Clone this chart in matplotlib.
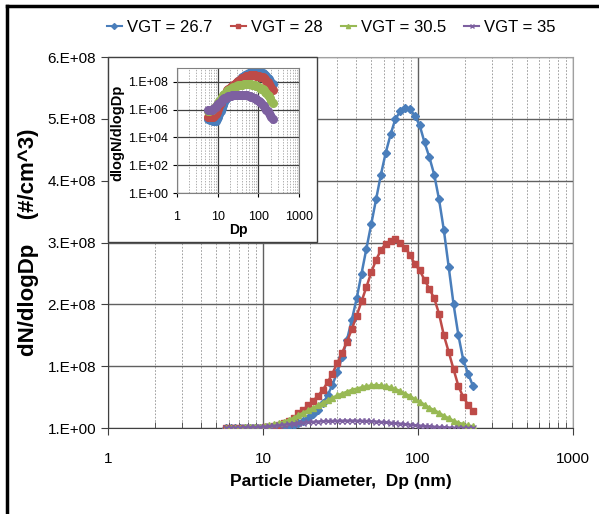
import numpy as np
import matplotlib
matplotlib.use('Agg')
import matplotlib.pyplot as plt
import matplotlib.ticker as ticker
from matplotlib import font_manager
from matplotlib.patches import Rectangle
from matplotlib.lines import Line2D

plt.rcParams['font.family'] = ['Liberation Sans', 'DejaVu Sans']

# the reference is a horizontally squeezed Excel chart: narrow font where we have one
font_names = {f.name for f in font_manager.fontManager.ttflist}
if 'Liberation Sans Narrow' in font_names:
    NARROW = ['Liberation Sans Narrow', 'Liberation Sans']
    k = 1.2
else:
    NARROW = ['Liberation Sans', 'DejaVu Sans']
    k = 1.0

# particle diameter channels (nm)
dp = [5.75, 6.18, 6.65, 7.14, 7.67, 8.25, 8.87, 9.53, 10.24, 11.0, 11.8, 12.7, 13.6,
      14.7, 15.8, 16.9, 18.2, 19.6, 21.0, 22.6, 24.3, 26.1, 28.0, 30.1, 32.4, 34.8,
      37.4, 40.2, 43.2, 46.4, 49.9, 53.6, 57.6, 61.8, 66.5, 71.4, 76.7, 82.5, 88.6,
      95.2, 102.3, 110.0, 118.2, 127.0, 136.4, 146.6, 157.6, 169.3, 181.9, 195.5,
      210.1, 225.8]

# dN/dlogDp in units of 1e6 #/cm^3
vgt_267 = [0.2, 0.2, 0.18, 0.17, 0.15, 0.15, 0.16, 0.2, 0.3, 0.5, 0.8, 1.3, 2.2,
           3.6, 5.5, 8.5, 12, 17, 23, 30, 40, 53, 70, 90, 115, 143,
           175, 210, 250, 290, 330, 370, 410, 445, 475, 500, 512, 518, 516,
           505, 490, 462, 438, 410, 370, 320, 260, 200, 150, 110,
           88, 68]
vgt_28 = [0.3, 0.3, 0.3, 0.3, 0.3, 0.35, 0.45, 0.7, 1.1, 1.8, 3, 5, 8,
          12, 17, 24, 30, 37, 44, 52, 62, 74, 88, 105, 122, 140,
          160, 182, 205, 228, 252, 272, 288, 298, 303, 306, 300, 292, 280,
          266, 255, 240, 225, 210, 185, 150, 123, 95, 68, 50,
          38, 28]
vgt_305 = [0.8, 0.8, 0.9, 1.0, 1.1, 1.3, 1.7, 2.3, 3.2, 4.5, 6, 8, 10.5,
           13.5, 17, 21, 25, 29, 33, 37, 41, 45, 49, 53, 56, 59,
           62, 64, 66, 68, 69, 70, 69, 68, 66, 63, 60, 56, 52,
           47, 43, 38, 33, 29, 25, 20, 16, 12, 9, 6.5,
           4.5, 3]
vgt_35 = [0.9, 0.9, 0.9, 1.0, 1.1, 1.3, 1.6, 2.0, 2.5, 3.1, 3.8, 4.6, 5.5,
          6.4, 7.3, 8.1, 8.9, 9.6, 10.2, 10.7, 11.1, 11.4, 11.7, 11.9, 12.0, 12.1,
          12.1, 12.0, 11.8, 11.5, 11.1, 10.6, 10.0, 9.4, 8.7, 8.0, 7.2, 6.4, 5.6,
          4.8, 4.1, 3.4, 2.8, 2.2, 1.7, 1.3, 1.0, 0.75, 0.55, 0.4,
          0.3, 0.2]

labels = ['VGT = 26.7', 'VGT = 28', 'VGT = 30.5', 'VGT = 35']
colors = ['#4a7ebb', '#be4b48', '#98b954', '#7d60a0']
markers = ['D', 's', '^', 'x']
series = [vgt_267, vgt_28, vgt_305, vgt_35]

yticks = [0, 1e8, 2e8, 3e8, 4e8, 5e8, 6e8]
ytick_labels = ['1.E+00', '1.E+08', '2.E+08', '3.E+08', '4.E+08', '5.E+08', '6.E+08']

fig = plt.figure(figsize=(5.99, 5.14), dpi=100)
ax = fig.add_axes([0.180, 0.167, 0.777, 0.722])

for vals, c, m in zip(series, colors, markers):
    y = np.array(vals) * 1e6
    ax.plot(dp, y, color=c, marker=m, markersize=4, linewidth=1.8, zorder=3)

ax.set_xscale('log')
ax.set_xlim(1, 1000)
ax.set_ylim(0, 6e8)
ax.set_yticks(yticks)
ax.set_yticklabels(ytick_labels)
ax.xaxis.set_major_formatter(ticker.FuncFormatter(lambda v, p: f'{v:g}'))
ax.xaxis.set_minor_formatter(ticker.NullFormatter())
ax.grid(which='major', axis='both', color='#606060', linewidth=1.0)
ax.grid(which='minor', axis='x', color='#909090', linewidth=0.6, linestyle=(0, (2, 2)))
ax.set_axisbelow(True)
ax.tick_params(axis='both', which='major', length=5, direction='out', color='#404040')
ax.tick_params(axis='x', which='major', pad=12)
ax.tick_params(axis='x', which='minor', length=4, direction='in', color='#404040')
for lab in ax.get_xticklabels() + ax.get_yticklabels():
    lab.set_family(NARROW)
    lab.set_fontsize(11 * k)
for s in ['top', 'right']:
    ax.spines[s].set_color('#a0a0a0')
for s in ['left', 'bottom']:
    ax.spines[s].set_color('#404040')
ax.set_xlabel('Particle Diameter,  Dp (nm)', fontsize=12.5 * k, fontweight='bold',
              family=NARROW, labelpad=6)
ax.set_ylabel('dN/dlogDp    (#/cm^3)', fontsize=16, fontweight='bold', labelpad=6)

handles = [Line2D([0], [0], color=c, marker=m, markersize=3, linewidth=1.5)
           for c, m in zip(colors, markers)]
fig.legend(handles, labels, loc='upper center', bbox_to_anchor=(0.553, 0.99), ncol=4,
           frameon=False, prop={'family': NARROW, 'size': 12 * k},
           handlelength=0.9, handletextpad=0.3, columnspacing=1.1)

# inset frame
fig.patches.append(Rectangle((108 / 599, 1 - 242 / 514), (317 - 108) / 599, (242 - 57) / 514,
                             transform=fig.transFigure, facecolor='white',
                             edgecolor='#404040', linewidth=1.0, zorder=5))

ins = fig.add_axes([177 / 599, 1 - 193 / 514, (299 - 177) / 599, (193 - 68) / 514], zorder=6)
for vals, c in zip(series, colors):
    y = np.array(vals) * 1e6
    ins.plot(dp, y, color=c, marker='o', markersize=5.5, linewidth=0)
ins.set_xscale('log')
ins.set_yscale('log')
ins.set_xlim(1, 1000)
ins.set_ylim(1, 1e9)
ins.set_yticks([1, 1e2, 1e4, 1e6, 1e8])
ins.set_yticklabels(['1.E+00', '1.E+02', '1.E+04', '1.E+06', '1.E+08'])
ins.yaxis.set_minor_locator(ticker.NullLocator())
ins.xaxis.set_major_formatter(ticker.FuncFormatter(lambda v, p: f'{v:g}'))
ins.xaxis.set_minor_formatter(ticker.NullFormatter())
ins.grid(which='major', color='#404040', linewidth=0.9)
ins.grid(which='minor', axis='x', color='#909090', linewidth=0.5, linestyle=(0, (2, 2)))
ins.set_axisbelow(True)
ins.tick_params(axis='both', which='major', length=3)
ins.tick_params(axis='x', which='major', pad=10)
ins.tick_params(axis='x', which='minor', length=0)
for lab in ins.get_xticklabels() + ins.get_yticklabels():
    lab.set_family(NARROW)
    lab.set_fontsize(9 * k)
for s in ins.spines.values():
    s.set_color('#808080')
ins.set_xlabel('Dp', fontsize=10 * k, fontweight='bold', family=NARROW, labelpad=0)
ins.set_ylabel('dlogN/dlogDp', fontsize=10.5, fontweight='bold', labelpad=2)
ins.yaxis.set_label_coords(-0.43, 0.48)

# outer frame (left and top only)
fig.add_artist(Line2D([7 / 599, 7 / 599], [0, 1 - 6 / 514], color='black', linewidth=2.5,
                      transform=fig.transFigure))
fig.add_artist(Line2D([7 / 599, 1], [1 - 6 / 514, 1 - 6 / 514], color='black', linewidth=2.5,
                      transform=fig.transFigure))

fig.savefig('out.png', dpi=100)
